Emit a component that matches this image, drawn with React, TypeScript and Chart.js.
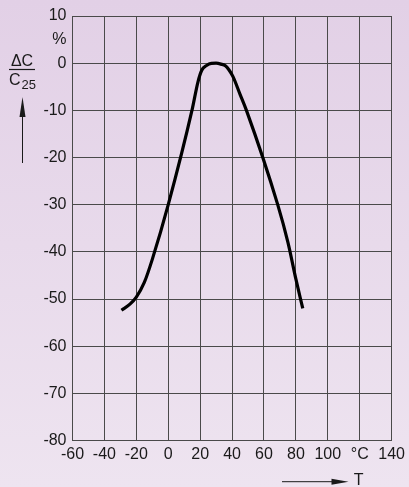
import React, { useEffect, useRef } from "react";
import { Chart, registerables } from "chart.js";

Chart.register(...registerables);

const temperatures = [-29.3, -24, -20, -15, -10, 0, 15, 18.6, 21, 24, 27, 30, 33, 36, 38, 40.5, 45, 49, 68.6, 75, 80, 84.3];
const capChange = [-52.4, -51.1, -49.6, -46.5, -41.6, -30, -9.8, -4, -1.5, -0.5, -0.05, 0, -0.2, -0.6, -1.4, -2.8, -6.6, -10, -30, -38, -45.8, -52];

const xTicks = [-60, -40, -20, 0, 20, 40, 60, 80, 100, 120, 140];
const xTickLabels = ["-60", "-40", "-20", "0", "20", "40", "60", "80", "100", "°C", "140"];
const yTicks = [-80, -70, -60, -50, -40, -30, -20, -10, 0, 5, 10];
const yTickLabels = ["-80", "-70", "-60", "-50", "-40", "-30", "-20", "-10", "0", "%", "10"];

const FONT = "'Liberation Sans', Arial, Helvetica, sans-serif";
const GRID = "#4a4a4a";
const TEXT = "#1a1a1a";

const decorPlugin = {
  id: "decor",
  afterDraw(chart: any) {
    const ctx = chart.ctx as CanvasRenderingContext2D;
    ctx.save();
    ctx.fillStyle = TEXT;
    ctx.strokeStyle = TEXT;
    // Y label: ΔC / C25
    ctx.font = `16px ${FONT}`;
    ctx.textAlign = "center";
    ctx.textBaseline = "alphabetic";
    ctx.fillText("ΔC", 22, 66);
    ctx.lineWidth = 1.2;
    ctx.beginPath();
    ctx.moveTo(9, 69.5);
    ctx.lineTo(35, 69.5);
    ctx.stroke();
    ctx.textAlign = "left";
    ctx.fillText("C", 9, 85);
    ctx.font = `13px ${FONT}`;
    ctx.fillText("25", 21.5, 89);
    // Y arrow
    ctx.lineWidth = 1;
    ctx.beginPath();
    ctx.moveTo(22.5, 163);
    ctx.lineTo(22.5, 112);
    ctx.stroke();
    ctx.beginPath();
    ctx.moveTo(22.5, 97);
    ctx.lineTo(25.5, 117);
    ctx.lineTo(19.5, 117);
    ctx.closePath();
    ctx.fill();
    // X arrow
    ctx.beginPath();
    ctx.moveTo(282, 481.7);
    ctx.lineTo(336, 481.7);
    ctx.stroke();
    ctx.beginPath();
    ctx.moveTo(348.5, 481.7);
    ctx.lineTo(331.5, 478.7);
    ctx.lineTo(331.5, 484.7);
    ctx.closePath();
    ctx.fill();
    ctx.font = `16px ${FONT}`;
    ctx.textAlign = "center";
    ctx.fillText("T", 358.7, 485);
    ctx.restore();
  },
};

export default function App() {
  const ref = useRef<HTMLCanvasElement | null>(null);
  useEffect(() => {
    document.body.style.margin = "0";
    const canvas = ref.current!;
    const chart = new Chart(canvas, {
      type: "line",
      data: {
        datasets: [
          {
            data: temperatures.map((t, i) => ({ x: t, y: capChange[i] })),
            borderColor: "#000",
            borderWidth: 3.2,
            pointRadius: 0,
            fill: false,
            cubicInterpolationMode: "monotone",
            borderCapStyle: "butt",
            borderJoinStyle: "round",
          } as any,
        ],
      },
      options: {
        animation: false,
        responsive: false,
        devicePixelRatio: 1,
        layout: { padding: { left: 0, top: 16, right: 13.5, bottom: 0 } },
        plugins: { legend: { display: false }, tooltip: { enabled: false } },
        scales: {
          x: {
            type: "linear",
            min: -60,
            max: 140,
            afterBuildTicks: (scale: any) => {
              scale.ticks = xTicks.map((v) => ({ value: v }));
            },
            afterFit: (scale: any) => {
              scale.height = 46.5;
            },
            ticks: {
              autoSkip: false,
              maxRotation: 0,
              padding: 4,
              color: TEXT,
              font: { family: FONT, size: 16 },
              callback: (v: any) => xTickLabels[xTicks.indexOf(Number(v))] ?? "",
            },
            grid: { color: GRID, lineWidth: 1, drawTicks: false },
            border: { color: GRID, width: 1 },
          },
          y: {
            type: "linear",
            min: -80,
            max: 10,
            afterBuildTicks: (scale: any) => {
              scale.ticks = yTicks.map((v) => ({ value: v }));
            },
            afterFit: (scale: any) => {
              scale.width = 72.5;
            },
            ticks: {
              autoSkip: false,
              padding: 6,
              color: TEXT,
              font: { family: FONT, size: 16 },
              callback: (v: any) => yTickLabels[yTicks.indexOf(Number(v))] ?? "",
            },
            grid: {
              color: (c: any) => (c.tick && c.tick.value === 5 ? "rgba(0,0,0,0)" : GRID),
              lineWidth: 1,
              drawTicks: false,
            },
            border: { color: GRID, width: 1 },
          },
        },
      },
      plugins: [decorPlugin],
    });
    return () => chart.destroy();
  }, []);
  return (
    <div
      style={{
        width: 409,
        height: 487,
        background: "linear-gradient(to bottom, #e2d0e6 0%, #eee4f0 100%)",
      }}
    >
      <canvas ref={ref} width={409} height={487} style={{ display: "block" }} />
    </div>
  );
}
